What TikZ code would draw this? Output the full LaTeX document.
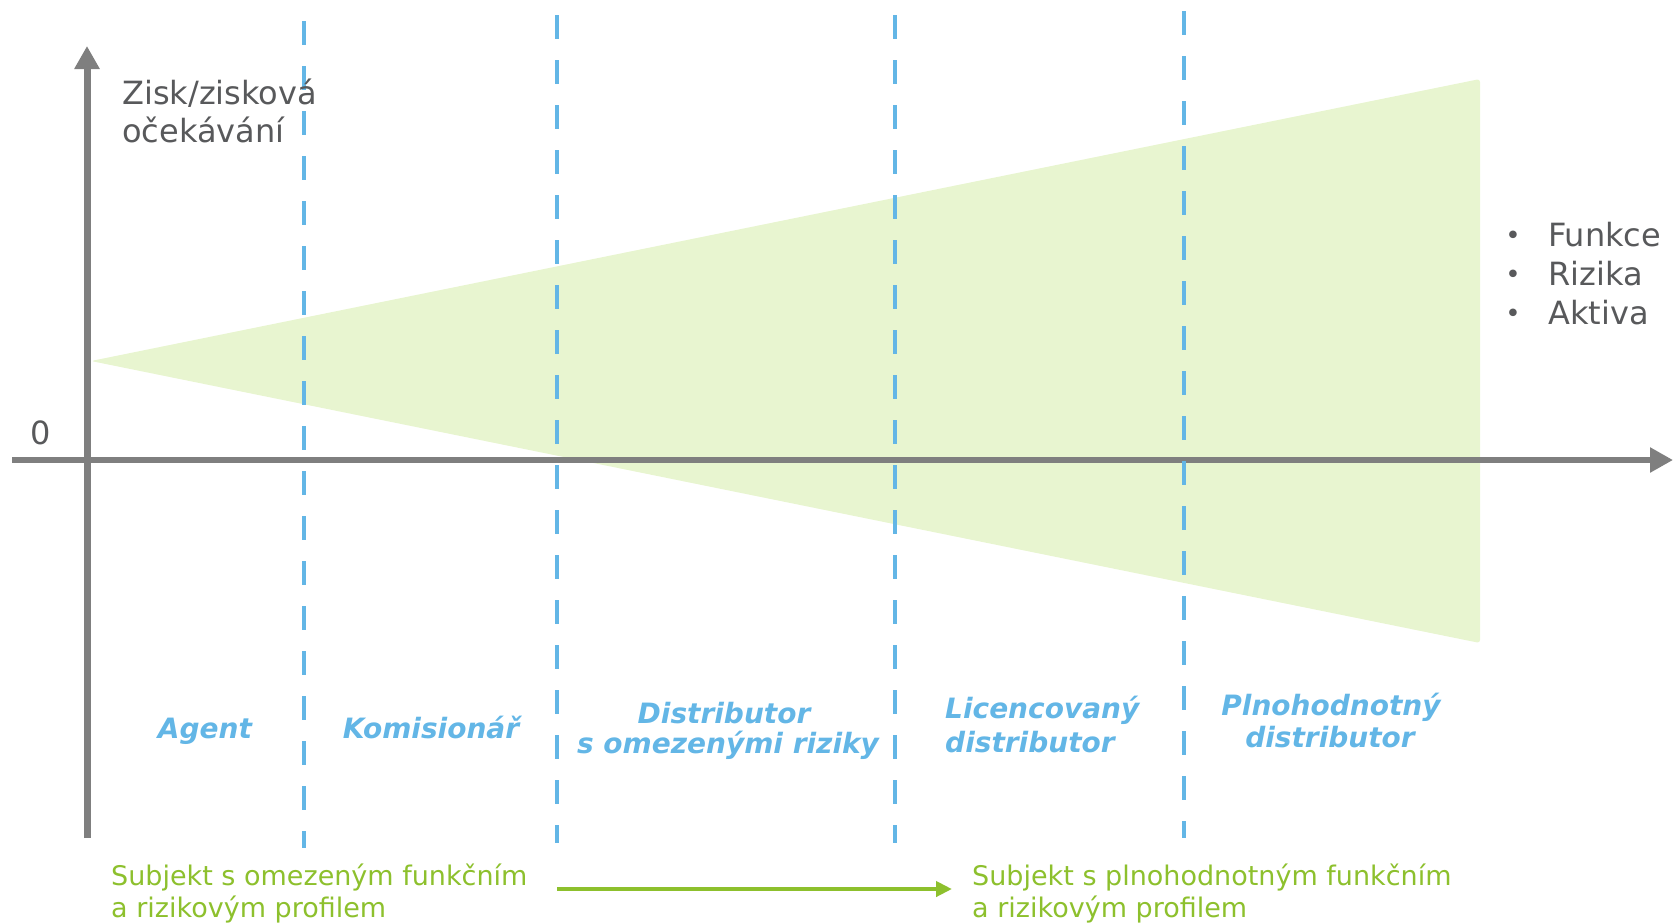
\documentclass[tikz,border=0pt]{standalone}
\usepackage{fontspec}
\setmainfont{DejaVu Sans}
\usetikzlibrary{arrows.meta}
\definecolor{axisgray}{RGB}{127,127,127}
\definecolor{txtgray}{RGB}{88,89,91}
\definecolor{lblue}{RGB}{99,182,230}
\definecolor{lgreen}{RGB}{141,192,45}
\definecolor{trifill}{RGB}{232,245,208}
\tikzset{
  graytxt/.style={inner sep=0pt, text=txtgray, font=\fontsize{32}{38}\selectfont},
  bullettxt/.style={inner sep=0pt, text=txtgray, font=\fontsize{26}{30}\selectfont},
  bluetxt/.style={inner sep=0pt, text=lblue, font=\fontsize{28}{34}\selectfont\bfseries\itshape},
  greentxt/.style={inner sep=0pt, text=lgreen, font=\fontsize{27}{32}\selectfont},
  divider/.style={draw=lblue, line width=4pt, dash pattern=on 24pt off 21pt},
  axisline/.style={draw=axisgray, -{Triangle[length=23pt,width=24pt]}},
}
\begin{document}
\begin{tikzpicture}[x=1pt,y=-1pt]
\useasboundingbox (0,0) rectangle (1673,922);
% triangle
\fill[trifill, rounded corners=3pt] (91,361) -- (1480,79) -- (1480,643) -- cycle;
% axes
\coordinate (xs) at (12,460);
\coordinate (xe) at (1673,460);
\coordinate (ys) at (87,838);
\coordinate (ye) at (87,46);
\draw[axisline, line width=5.5pt] (xs) -- (xe);
\draw[axisline, line width=7pt] (ys) -- (ye);
% dividers
\coordinate (d1t) at (304,21); \coordinate (d1b) at (304,848);
\coordinate (d2t) at (557,15); \coordinate (d2b) at (557,843);
\coordinate (d3t) at (895,15); \coordinate (d3b) at (895,843);
\coordinate (d4t) at (1184,11); \coordinate (d4b) at (1184,838);
\draw[divider] (d1t) -- (d1b);
\draw[divider] (d2t) -- (d2b);
\draw[divider] (d3t) -- (d3b);
\draw[divider] (d4t) -- (d4b);
% axis texts
\node[graytxt, anchor=base west] (zisk1) at (122,104) {Zisk/zisková};
\node[graytxt, anchor=base west] (zisk2) at (122,142) {očekávání};
\node[graytxt, anchor=base] (zero) at (41,444) {0};
% bullets
\node[bullettxt, anchor=base] (b1) at (1513,244) {•};
\node[bullettxt, anchor=base] (b2) at (1513,283) {•};
\node[bullettxt, anchor=base] (b3) at (1513,322) {•};
\node[graytxt, anchor=base west] (f1) at (1548,246) {Funkce};
\node[graytxt, anchor=base west] (f2) at (1548,285) {Rizika};
\node[graytxt, anchor=base west] (f3) at (1548,324) {Aktiva};
% blue labels
\node[bluetxt, anchor=base] (agent) at (205,738) {Agent};
\node[bluetxt, anchor=base] (komis) at (431,738) {Komisionář};
\node[bluetxt, anchor=base] (dist1) at (724,723) {Distributor};
\node[bluetxt, anchor=base] (dist2) at (728,753) {s omezenými riziky};
\node[bluetxt, anchor=base west] (lic1) at (945,718) {Licencovaný};
\node[bluetxt, anchor=base west] (lic2) at (945,752) {distributor};
\node[bluetxt, anchor=base] (pln1) at (1331,715) {Plnohodnotný};
\node[bluetxt, anchor=base] (pln2) at (1330,747) {distributor};
% green texts
\node[greentxt, anchor=base west] (g1a) at (111,885) {Subjekt s omezeným funkčním};
\node[greentxt, anchor=base west] (g1b) at (111,917) {a rizikovým profilem};
\node[greentxt, anchor=base west] (g2a) at (972,885) {Subjekt s plnohodnotným funkčním};
\node[greentxt, anchor=base west] (g2b) at (972,917) {a rizikovým profilem};
\coordinate (ga) at (557,889);
\coordinate (gb) at (952,889);
\draw[lgreen, line width=4.5pt, -{Triangle[length=16pt,width=15pt]}] (ga) -- (gb);
\end{tikzpicture}
\end{document}
